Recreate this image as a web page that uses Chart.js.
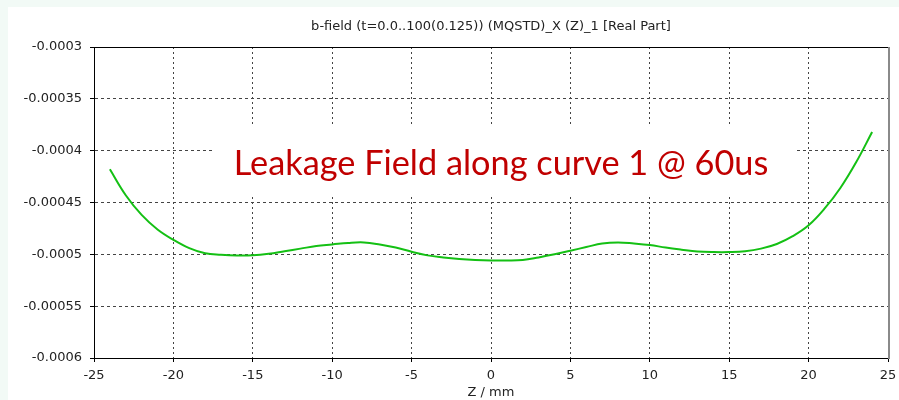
<!DOCTYPE html>
<html>
<head>
<meta charset="utf-8">
<script src="https://cdn.jsdelivr.net/npm/chart.js@4/dist/chart.umd.min.js"></script>
<style>
  html, body { margin: 0; padding: 0; background: #f2faf6; }
  #wrap { width: 899px; height: 400px; }
</style>
</head>
<body>
<div id="wrap"><canvas id="fieldChart" width="899" height="400"></canvas></div>
<script>
// b-field along the curve (real part), Z in mm
const zPositions = [-24, -23, -22, -21, -20, -19, -18, -17, -16, -15, -14, -13, -12, -11, -10, -9, -8, -7, -6, -5, -4, -3, -2, -1,
    0, 1, 2, 3, 4, 5, 6, 7, 8, 9, 10, 11, 12, 13, 14, 15, 16, 17, 18, 19, 20, 21, 22, 23, 24];
const bField = [-0.000418, -0.000443, -0.000462, -0.000476, -0.000486, -0.000494, -0.000499, -0.0005005, -0.0005012, -0.000501,
    -0.0004995, -0.000497, -0.0004945, -0.000492, -0.0004905, -0.000489, -0.0004885, -0.0004905, -0.0004935, -0.0004975,
    -0.000501, -0.000503, -0.0005045, -0.0005055, -0.000506, -0.000506, -0.0005055, -0.000503, -0.0005, -0.0004965,
    -0.000493, -0.0004895, -0.0004885, -0.0004895, -0.000491, -0.0004935, -0.0004955, -0.0004972, -0.0004978, -0.0004978,
    -0.000497, -0.0004945, -0.00049, -0.0004825, -0.000472, -0.000456, -0.000436, -0.000411, -0.000382];

const xTicks = [-25, -20, -15, -10, -5, 0, 5, 10, 15, 20, 25];
const yTicks = [-0.0006, -0.00055, -0.0005, -0.00045, -0.0004, -0.00035, -0.0003];
const yTickLabels = ["-0.0006", "-0.00055", "-0.0005", "-0.00045", "-0.0004", "-0.00035", "-0.0003"];

const chartTitle = "b-field (t=0.0..100(0.125)) (MQSTD)_X (Z)_1 [Real Part]";
const noteText = "Leakage Field along curve 1 @ 60us";

const axisFont = { family: "DejaVu Sans", size: 13 };

const points = zPositions.map((z, i) => ({ x: z, y: bField[i] }));

// background panel, title, frame and the note box
const decorations = {
    id: "decorations",
    beforeDraw(chart) {
        const ctx = chart.ctx;
        ctx.save();
        ctx.fillStyle = "#f2faf6";
        ctx.fillRect(0, 0, chart.width, chart.height);
        ctx.fillStyle = "#ffffff";
        ctx.fillRect(8, 7, chart.width - 8, chart.height - 7);
        const area = chart.chartArea;
        ctx.fillStyle = "#222";
        ctx.font = "13px 'DejaVu Sans'";
        ctx.textAlign = "center";
        ctx.textBaseline = "middle";
        ctx.fillText(chartTitle, (area.left + area.right) / 2, 27);
        ctx.restore();
    },
    beforeDatasetsDraw(chart) {
        const ctx = chart.ctx;
        const x = chart.scales.x, y = chart.scales.y;
        // white note box over the grid
        const left = x.getPixelForValue(-17.55), right = x.getPixelForValue(19.2);
        const top = y.getPixelForValue(-0.000377), bottom = y.getPixelForValue(-0.000442);
        ctx.save();
        ctx.fillStyle = "#ffffff";
        ctx.fillRect(left, top, right - left, bottom - top);
        ctx.fillStyle = "#c00000";
        ctx.font = "34.3px Lato";
        ctx.textAlign = "left";
        ctx.textBaseline = "alphabetic";
        ctx.fillText(noteText, x.getPixelForValue(-16.2), y.getPixelForValue(-0.0004232));
        ctx.restore();
    },
    afterDraw(chart) {
        const ctx = chart.ctx;
        const area = chart.chartArea;
        ctx.save();
        ctx.strokeStyle = "#000";
        ctx.lineWidth = 1;
        ctx.beginPath();
        ctx.moveTo(area.left, Math.round(area.top) + 0.5);
        ctx.lineTo(area.right, Math.round(area.top) + 0.5);
        ctx.stroke();
        ctx.strokeStyle = "#8a8a8a";
        ctx.lineWidth = 2;
        ctx.beginPath();
        ctx.moveTo(Math.round(area.right) + 1, area.top);
        ctx.lineTo(Math.round(area.right) + 1, area.bottom + 1);
        ctx.stroke();
        ctx.restore();
    }
};

new Chart(document.getElementById("fieldChart"), {
    type: "line",
    data: {
        datasets: [{
            data: points,
            borderColor: "#14c014",
            borderWidth: 2,
            pointRadius: 0,
            tension: 0.4,
            fill: false
        }]
    },
    options: {
        responsive: false,
        animation: false,
        layout: { padding: { top: 47, right: 11, left: 0, bottom: 0 } },
        plugins: { legend: { display: false }, tooltip: { enabled: false } },
        scales: {
            x: {
                type: "linear",
                min: -25,
                max: 25,
                afterBuildTicks: scale => { scale.ticks = xTicks.map(v => ({ value: v })); },
                afterFit: scale => {
                    scale.height = 42;
                    scale.paddingLeft = 0;
                    scale.paddingRight = 0;
                },
                ticks: { color: "#222", font: axisFont, padding: 6, maxRotation: 0 },
                grid: { color: "#444", tickColor: "#000", tickLength: 4 },
                border: { color: "#000", dash: [2, 3] },
                title: { display: true, text: "Z / mm", color: "#222", font: axisFont, padding: 0 }
            },
            y: {
                type: "linear",
                min: -0.0006,
                max: -0.0003,
                afterBuildTicks: scale => { scale.ticks = yTicks.map(v => ({ value: v })); },
                afterFit: scale => {
                    scale.width = 94;
                    scale.paddingTop = 0;
                    scale.paddingBottom = 0;
                },
                ticks: {
                    color: "#222",
                    font: axisFont,
                    padding: 8,
                    callback: (value) => {
                        const i = yTicks.findIndex(t => Math.abs(t - value) < 1e-9);
                        return i >= 0 ? yTickLabels[i] : "";
                    }
                },
                grid: { color: "#444", tickColor: "#000", tickLength: 4 },
                border: { color: "#000", dash: [3, 3] }
            }
        }
    },
    plugins: [decorations]
});
</script>
</body>
</html>
